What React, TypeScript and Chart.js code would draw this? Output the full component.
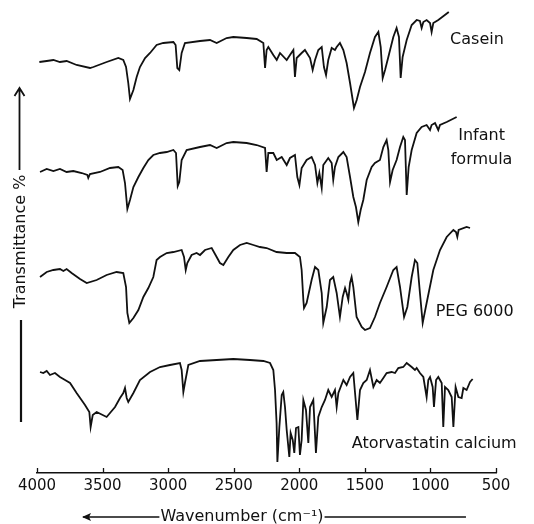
import React, { useEffect, useRef } from 'react';
import { Chart, registerables } from 'chart.js';

Chart.register(...registerables);

// ---- Data (wavenumber in cm^-1, stacked transmittance in arbitrary offset units) ----
const xTickValues = [4000, 3500, 3000, 2500, 2000, 1500, 1000, 500];

const caseinWn = [3982,3926,3875,3825,3774,3698,3596,3570,3469,3380,3342,3321,3304,3291,3265,3240,3215,3176,3138,3088,3037,2960,2943,2930,2915,2897,2872,2757,2681,2630,2554,2503,2401,2325,2274,2261,2249,2236,2198,2172,2147,2096,2071,2045,2033,2020,1982,1957,1918,1898,1880,1855,1829,1812,1796,1779,1753,1728,1715,1690,1664,1639,1613,1583,1562,1537,1499,1461,1423,1397,1379,1364,1346,1321,1283,1258,1240,1227,1212,1181,1143,1105,1080,1067,1054,1029,1003,991,978,940,900,860];
const caseinT = [411,412,413,411,412,408,405,406,411,415,413,406,390,374,383,396,406,415,420,428,430,431,428,405,403,420,430,432,433,430,435,436,435,434,430,405,423,426,418,413,420,413,418,423,396,415,420,423,415,403,413,423,426,406,398,413,425,423,426,430,423,410,390,365,373,386,401,420,436,441,426,395,403,416,436,445,436,395,416,433,448,453,452,445,451,453,450,441,450,453,457,461];

const infantWn = [3977,3926,3875,3825,3774,3723,3659,3616,3609,3596,3520,3443,3380,3347,3329,3311,3291,3265,3227,3189,3151,3113,3062,3011,2960,2940,2927,2915,2897,2859,2757,2681,2630,2554,2503,2401,2325,2261,2249,2236,2198,2172,2134,2096,2071,2033,2015,1999,1982,1944,1906,1880,1862,1847,1829,1817,1779,1753,1741,1728,1702,1664,1639,1613,1588,1568,1550,1532,1512,1486,1448,1423,1385,1359,1334,1321,1308,1288,1258,1232,1207,1194,1181,1166,1143,1105,1067,1029,1003,991,965,940,927,876,800];
const infantT = [301,304,302,304,301,302,300,298,295,299,301,305,306,303,290,264,273,286,296,305,313,318,320,321,323,320,287,291,313,323,326,328,325,330,331,330,328,325,301,320,320,313,316,308,315,318,296,288,305,313,316,308,290,300,285,308,315,310,293,306,316,321,316,296,276,266,251,263,273,293,306,310,313,326,333,323,291,303,313,326,336,333,278,306,323,340,346,348,343,348,350,343,348,351,356];

const pegWn = [3977,3926,3875,3825,3799,3774,3736,3672,3621,3545,3469,3393,3342,3321,3311,3296,3265,3227,3189,3151,3113,3088,3062,3011,2960,2897,2879,2866,2854,2821,2783,2757,2719,2668,2630,2605,2579,2541,2503,2452,2401,2350,2300,2249,2173,2096,2033,1995,1982,1969,1964,1944,1906,1880,1855,1829,1817,1791,1766,1741,1715,1690,1669,1651,1639,1626,1613,1601,1588,1563,1524,1499,1461,1423,1385,1334,1283,1258,1232,1201,1176,1143,1118,1100,1080,1059,1029,978,927,876,825,805,795,785,724,698];
const pegT = [196,201,203,204,202,204,200,194,190,193,198,201,200,186,160,150,155,163,176,185,196,213,216,220,221,223,216,203,210,218,220,218,223,225,216,210,208,216,223,228,230,228,226,225,221,220,220,216,203,173,165,170,193,206,203,180,150,166,193,196,180,156,176,185,180,173,190,196,186,156,146,143,145,156,170,186,203,206,186,156,166,196,213,210,180,150,170,203,223,236,243,241,236,243,246,245];

const atorWn = [3977,3952,3926,3901,3863,3825,3786,3748,3698,3634,3601,3591,3575,3545,3469,3405,3367,3342,3329,3316,3304,3265,3215,3138,3062,2986,2910,2897,2884,2872,2846,2757,2630,2503,2376,2274,2223,2198,2185,2173,2167,2152,2134,2122,2109,2096,2076,2066,2050,2038,2025,2007,1995,1982,1969,1949,1931,1918,1893,1873,1855,1829,1804,1779,1753,1728,1715,1702,1664,1639,1613,1588,1557,1537,1512,1486,1461,1435,1410,1385,1359,1334,1296,1270,1245,1207,1181,1143,1118,1105,1080,1054,1029,1016,1003,983,973,957,940,914,902,889,864,838,825,808,787,762,749,724,698,678];
const atorT = [101,100,102,98,100,96,93,90,80,68,61,46,58,61,56,66,75,80,85,75,71,80,93,101,106,108,110,103,81,90,108,112,113,114,113,112,110,103,83,50,11,46,78,81,66,43,16,40,33,20,45,46,18,33,73,63,30,66,73,20,56,66,73,83,76,83,66,80,93,88,96,100,53,83,90,93,103,86,93,90,95,100,101,100,105,106,110,106,103,105,100,96,76,93,96,86,66,93,96,90,46,86,83,76,46,86,76,75,85,83,91,94];

const seriesNames = ['Casein', 'Infant formula', 'PEG 6000', 'Atorvastatin calcium'];
const xTitle = 'Wavenumber (cm\u207B\u00B9)';
const yTitle = 'Transmittance %';

const toPoints = (xs: number[], ys: number[]) => {
  const n = Math.min(xs.length, ys.length);
  const out: { x: number; y: number }[] = [];
  for (let i = 0; i < n; i++) out.push({ x: xs[i], y: ys[i] });
  return out;
};

const INK = '#111111';
const FONT = '"DejaVu Sans", Verdana, sans-serif';

const decorPlugin = {
  id: 'irDecor',
  afterDraw(chart: any) {
    const { ctx, chartArea } = chart;
    const xs = chart.scales.x;
    const ys = chart.scales.y;
    ctx.save();
    ctx.strokeStyle = INK;
    ctx.fillStyle = INK;
    // inward tick marks on the wavenumber axis
    ctx.lineWidth = 1.3;
    xs.ticks.forEach((t: any) => {
      const px = Math.round(xs.getPixelForValue(t.value)) + 0.5;
      ctx.beginPath();
      ctx.moveTo(px, chartArea.bottom);
      ctx.lineTo(px, chartArea.bottom - 5);
      ctx.stroke();
    });

    // series labels
    ctx.font = '16px ' + FONT;
    ctx.textBaseline = 'middle';
    ctx.textAlign = 'left';
    ctx.fillText(seriesNames[0], xs.getPixelForValue(850), ys.getPixelForValue(433));
    ctx.textAlign = 'center';
    const [w1, w2] = seriesNames[1].split(' ');
    ctx.fillText(w1, xs.getPixelForValue(610), ys.getPixelForValue(337));
    ctx.fillText(w2, xs.getPixelForValue(610), ys.getPixelForValue(313));
    ctx.textAlign = 'left';
    ctx.fillText(seriesNames[2], xs.getPixelForValue(960), ys.getPixelForValue(161));
    ctx.fillText(seriesNames[3], xs.getPixelForValue(1600), ys.getPixelForValue(29));

    // x-axis title with long arrow pointing to high wavenumber
    ctx.font = '16px ' + FONT;
    const cx = xs.getPixelForValue(2437);
    const cy = chart.height - 7;
    const tw = ctx.measureText(xTitle).width;
    ctx.textAlign = 'center';
    ctx.fillText(xTitle, cx, cy);
    ctx.lineWidth = 1.6;
    const tip = xs.getPixelForValue(3649);
    const endR = xs.getPixelForValue(729);
    ctx.beginPath();
    ctx.moveTo(tip, cy);
    ctx.lineTo(cx - tw / 2 - 1, cy);
    ctx.moveTo(cx + tw / 2 + 1, cy);
    ctx.lineTo(endR, cy);
    ctx.stroke();
    ctx.beginPath();
    ctx.moveTo(tip - 1, cy);
    ctx.lineTo(tip + 8, cy - 4);
    ctx.lineTo(tip + 6, cy);
    ctx.lineTo(tip + 8, cy + 4);
    ctx.closePath();
    ctx.fill();

    // y-axis arrow lines
    const ax = 19.5;
    ctx.lineWidth = 1.8;
    const upTop = ys.getPixelForValue(385);
    ctx.beginPath();
    ctx.moveTo(ax, ys.getPixelForValue(303));
    ctx.lineTo(ax, upTop);
    ctx.moveTo(ax - 5, upTop + 8);
    ctx.lineTo(ax, upTop);
    ctx.lineTo(ax + 5, upTop + 8);
    ctx.stroke();
    ctx.lineWidth = 2.2;
    ctx.beginPath();
    ctx.moveTo(ax + 1.5, ys.getPixelForValue(153));
    ctx.lineTo(ax + 1.5, ys.getPixelForValue(51));
    ctx.stroke();
    ctx.restore();
  },
};

export default function App() {
  const canvasRef = useRef<HTMLCanvasElement | null>(null);

  useEffect(() => {
    if (!canvasRef.current) return;
    const mk = (label: string, xs: number[], ys: number[]) => ({
      label,
      data: toPoints(xs, ys),
      borderColor: INK,
      borderWidth: 1.8,
      pointRadius: 0,
      tension: 0,
      fill: false,
    });
    const chart = new Chart(canvasRef.current, {
      type: 'line',
      data: {
        datasets: [
          mk(seriesNames[0], caseinWn, caseinT),
          mk(seriesNames[1], infantWn, infantT),
          mk(seriesNames[2], pegWn, pegT),
          mk(seriesNames[3], atorWn, atorT),
        ],
      },
      options: {
        animation: false,
        responsive: false,
        events: [],
        layout: { padding: { left: 0, right: 38, top: 10, bottom: 0 } },
        plugins: { legend: { display: false }, tooltip: { enabled: false } },
        scales: {
          x: {
            type: 'linear',
            reverse: true,
            min: 500,
            max: 4000,
            afterBuildTicks: (s: any) => {
              s.ticks = xTickValues.map((v) => ({ value: v }));
            },
            afterFit: (s: any) => {
              s.height = 51;
            },
            ticks: {
              color: INK,
              font: { size: 15, family: FONT },
              padding: 4,
              maxRotation: 0,
              autoSkip: false,
              callback: (v: any) => String(v),
            },
            grid: { display: false, drawTicks: false },
            border: { display: true, color: INK, width: 1.5 },
          },
          y: {
            type: 'linear',
            min: 0,
            max: 463,
            afterFit: (s: any) => {
              s.width = 37;
            },
            ticks: { display: false },
            grid: { display: false, drawTicks: false },
            border: { display: false },
            title: {
              display: true,
              text: yTitle,
              color: INK,
              font: { size: 16, family: FONT },
              padding: { top: 11, bottom: 0 },
            },
          },
        },
      },
      plugins: [decorPlugin],
    });
    return () => chart.destroy();
  }, []);

  return (
    <div style={{ position: 'fixed', left: 0, top: 0, width: 534, height: 524, background: '#fff' }}>
      <canvas ref={canvasRef} width={534} height={524} style={{ width: 534, height: 524, display: 'block' }} />
    </div>
  );
}
